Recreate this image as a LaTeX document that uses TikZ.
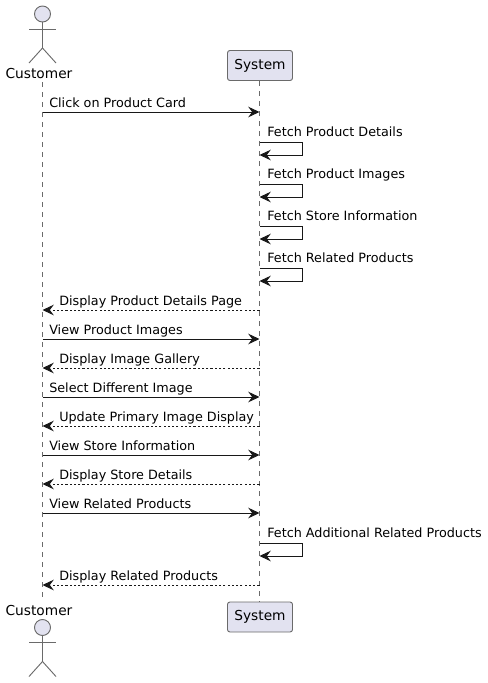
\documentclass[tikz,border=0pt]{standalone}
\usepackage{fontspec}
\setmainfont{DejaVu Sans}
\usetikzlibrary{arrows.meta, positioning}
\definecolor{actorfill}{HTML}{E2E2F0}
\definecolor{linecol}{HTML}{181818}
\definecolor{lifecol}{HTML}{6A6A6A}
\tikzset{
  head/.style={-{Stealth[length=8.5pt, width=8pt, inset=3pt]}, draw=linecol, line width=.7pt},
  call/.style={head},
  reply/.style={head, dash pattern=on 1.6pt off 1.6pt},
  lifeline/.style={draw=lifecol, line width=.5pt, dash pattern=on 3.75pt off 3.75pt},
  partbox/.style={draw=lifecol, fill=actorfill, rounded corners=1.8pt, line width=.7pt,
    minimum width=48.75pt, minimum height=22.5pt, inner sep=0pt, font=\fontsize{10.3pt}{12pt}\selectfont},
  actorline/.style={draw=lifecol, line width=.7pt},
  actorname/.style={inner sep=0pt, font=\fontsize{10.3pt}{12pt}\selectfont},
  msg/.style={anchor=base west, inner sep=0pt, text=black, font=\fontsize{9.57pt}{12pt}\selectfont},
}
\newcommand{\actorman}[2]{% head centre x, y
  \draw[actorline, fill=actorfill] (#1,#2) circle (6pt);
  \draw[actorline] (#1-13.5,#2+15) -- (#1+13.5,#2+15);
  \draw[actorline] (#1,#2+8) -- (#1,#2+34) -- (#1-13.5,#2+49);
  \draw[actorline] (#1,#2+34) -- (#1+13.5,#2+49);
}
\begin{document}
\begin{tikzpicture}[x=.75pt, y=-.75pt]
\useasboundingbox (0,0) rectangle (487,683);
% lifelines
\coordinate (custtop) at (42.5,82);
\coordinate (custbot) at (42.5,601);
\coordinate (systop) at (259.5,81);
\coordinate (sysbot) at (259.5,602);
\draw[lifeline] (custtop) -- (custbot);
\draw[lifeline] (systop) -- (sysbot);
% participants
\actorman{42.5}{14}
\node[actorname] (custa) at (39,73) {Customer};
\node[partbox] (sysa) at (260,65.5) {System};
\node[partbox] (sysb) at (260,617) {System};
\node[actorname] (custb) at (39,610) {Customer};
\actorman{42.5}{627.5}
% customer to system
\foreach \nm/\ypos/\txt in {m1/112/Click on Product Card, m6/339/View Product Images,
  m8/397/Select Different Image, m10/455/View Store Information, m12/513/View Related Products} {
  \coordinate (\nm c) at (42.5,\ypos);
  \coordinate (\nm s) at (259.5,\ypos);
  \draw[call] (\nm c) -- (\nm s);
  \node[msg] (\nm t) at (49,\ypos-5) {\txt};
}
% system to customer
\foreach \nm/\ypos/\txt in {m5/310/Display Product Details Page, m7/368/Display Image Gallery,
  m9/426/Update Primary Image Display, m11/484/Display Store Details, m14/585/Display Related Products} {
  \coordinate (\nm c) at (42.5,\ypos);
  \coordinate (\nm s) at (259.5,\ypos);
  \draw[reply] (\nm s) -- (\nm c);
  \node[msg] (\nm t) at (59,\ypos-5) {\txt};
}
% self calls
\foreach \nm/\ypos/\txt in {m2/142/Fetch Product Details, m3/184/Fetch Product Images,
  m4/226/Fetch Store Information, m4b/268/Fetch Related Products, m13/543/Fetch Additional Related Products} {
  \coordinate (\nm a) at (259.5,\ypos);
  \coordinate (\nm b) at (259.5,\ypos+13);
  \draw[call] (\nm a) -- ++(43,0) -- ++(0,13) -- (\nm b);
  \node[msg] (\nm t) at (267,\ypos-5.5) {\txt};
}
\end{tikzpicture}
\end{document}
